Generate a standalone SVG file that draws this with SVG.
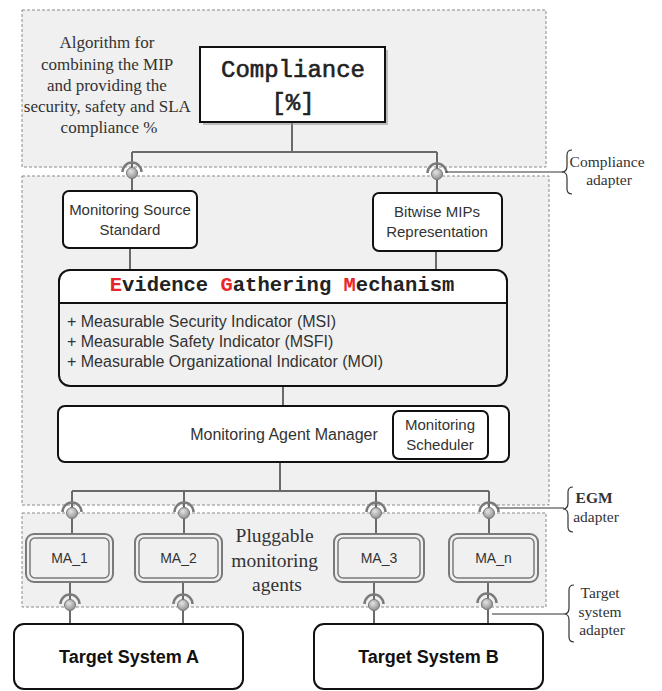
<svg xmlns="http://www.w3.org/2000/svg" width="662" height="691" viewBox="0 0 662 691">
<defs>
<style>
.region{fill:#f0f0f0;stroke:#8a8a8a;stroke-width:1;stroke-dasharray:3,2}
.box{fill:#fff;stroke:#111;stroke-width:2}
.conn{fill:none;stroke:#6a6a6a;stroke-width:2}
.callout{fill:none;stroke:#333;stroke-width:1.2}
.sans{font-family:"Liberation Sans",Arial,sans-serif;fill:#333}
.serif{font-family:"Liberation Serif","Times New Roman",serif;fill:#333}
.mono{font-family:"Liberation Mono","Courier New",monospace;font-weight:bold;fill:#222}
.mono-light{font-family:"Liberation Mono","Courier New",monospace;fill:#222;stroke:#222;stroke-width:0.6}
.red{fill:#e8262a}
.ma-out{fill:#f0f0f0;stroke:#7a7a7a;stroke-width:2}
.ma-in{fill:none;stroke:#7a7a7a;stroke-width:1.5}
</style>
<radialGradient id="ballGrad" cx="0.4" cy="0.35" r="0.7">
<stop offset="0" stop-color="#e4e4e4"/>
<stop offset="1" stop-color="#8c8c8c"/>
</radialGradient>
<g id="socket">
<path d="M-9.5,-1 A9.5,9.5 0 0 1 9.5,-1" fill="none" stroke="#7a7a7a" stroke-width="2.5"/>
<circle cx="0" cy="0" r="5.5" fill="url(#ballGrad)" stroke="#777" stroke-width="1"/>
</g>
</defs>

<!-- regions -->
<rect class="region" x="22" y="10" width="524" height="157"/>
<rect class="region" x="22" y="176" width="527" height="329"/>
<rect class="region" x="22" y="513" width="524" height="94"/>

<text class="serif" font-size="17" text-anchor="middle">
<tspan x="109" y="48">Algorithm for</tspan>
<tspan x="109" y="69.5">combining the MIP</tspan>
<tspan x="109" y="91">and providing the</tspan>
<tspan x="109" y="112">security, safety and SLA</tspan>
<tspan x="109" y="133">compliance %</tspan>
</text>
<text class="serif" font-size="19.5" text-anchor="middle">
<tspan x="277" y="542">Pluggable</tspan>
<tspan x="277" y="567">monitoring</tspan>
<tspan x="277" y="591">agents</tspan>
</text>

<!-- connectors -->
<g id="connectors">
<path class="conn" d="M292,122 V152 M132,152 H437 M132,152 V191 M437,152 V193"/>
<path class="conn" d="M130,248 V270 M436,251 V270"/>
<path class="conn" d="M283,386 V406"/>
<path class="conn" d="M280,462 V491 M72,491 H489 M72,491 V534 M184,491 V534 M376,491 V534 M489,491 V534"/>
<path class="conn" d="M70,582 V624 M183,582 V624 M374,582 V624 M488,582 V624"/>
<use href="#socket" x="132" y="173"/>
<use href="#socket" x="437" y="174"/>
<use href="#socket" x="72" y="513"/>
<use href="#socket" x="184" y="513"/>
<use href="#socket" x="376" y="513"/>
<use href="#socket" x="489" y="513"/>
<use href="#socket" x="70" y="605"/>
<use href="#socket" x="183" y="605"/>
<use href="#socket" x="374" y="605"/>
<use href="#socket" x="487" y="604"/>
<!-- adapter callouts -->
<path class="callout" d="M446,172 H563"/>
<path class="callout" d="M572,150 Q567,150 567,155 V166 Q567,172 562,172 Q567,172 567,178 V189 Q567,194 572,194"/>
<path class="callout" d="M498,508 H564"/>
<path class="callout" d="M573,487 Q568,487 568,492 V503 Q568,509 563,509 Q568,509 568,515 V527 Q568,532 573,532"/>
<path class="callout" d="M492,614 H564"/>
<path class="callout" d="M574,585 Q569,585 569,590 V608 Q569,614 564,614 Q569,614 569,620 V637 Q569,642 574,642"/>
</g>

<text class="serif" font-size="15.5" text-anchor="middle">
<tspan x="609" y="167">Compliance</tspan>
<tspan x="609" y="185">adapter</tspan>
</text>
<text class="serif" font-size="15.5" text-anchor="middle">
<tspan x="596" y="503" font-weight="bold">EGM</tspan>
<tspan x="596" y="522">adapter</tspan>
</text>
<text class="serif" font-size="15.5" text-anchor="middle">
<tspan x="602" y="598">Target</tspan>
<tspan x="602" y="617">system</tspan>
<tspan x="602" y="635">adapter</tspan>
</text>

<!-- Compliance node -->
<g id="compliance">
<rect x="203" y="50" width="185" height="75" fill="#9a9a9a" opacity="0.6"/>
<rect x="200" y="47" width="185" height="75" fill="#fff" stroke="#111" stroke-width="2"/>
<text class="mono-light" font-size="24" text-anchor="middle" x="293" y="77">Compliance</text>
<text class="mono-light" font-size="24" text-anchor="middle" x="293" y="110">[%]</text>
</g>

<g id="monitoring-source-standard">
<rect class="box" x="63" y="191" width="134" height="57" rx="6"/>
<text class="sans" font-size="15" text-anchor="middle"><tspan x="130" y="215">Monitoring Source</tspan><tspan x="130" y="235">Standard</tspan></text>
</g>

<g id="bitwise-mips">
<rect class="box" x="373" y="193" width="129" height="58" rx="6"/>
<text class="sans" font-size="15" text-anchor="middle"><tspan x="437" y="217">Bitwise MIPs</tspan><tspan x="437" y="237">Representation</tspan></text>
</g>

<g id="egm">
<rect x="59" y="270" width="448" height="116" rx="11" fill="#f0f0f0"/>
<path d="M59,303 V281 Q59,270 70,270 H496 Q507,270 507,281 V303 Z" fill="#fff"/>
<path d="M59,303 H507" stroke="#111" stroke-width="2"/>
<rect x="59" y="270" width="448" height="116" rx="11" fill="none" stroke="#111" stroke-width="2"/>
<text class="mono" font-size="20.5" text-anchor="middle" x="282" y="291"><tspan class="red">E</tspan>vidence <tspan class="red">G</tspan>athering <tspan class="red">M</tspan>echanism</text>
<text class="sans" font-size="16"><tspan x="67" y="327">+ Measurable Security Indicator (MSI)</tspan><tspan x="67" y="347">+ Measurable Safety Indicator (MSFI)</tspan><tspan x="67" y="367">+ Measurable Organizational Indicator (MOI)</tspan></text>
</g>

<g id="monitoring-agent-manager">
<rect class="box" x="58" y="406" width="451" height="56" rx="7"/>
<text class="sans" font-size="16" text-anchor="middle" x="284" y="440">Monitoring Agent Manager</text>
</g>

<g id="monitoring-scheduler">
<rect class="box" x="393" y="411" width="95" height="48" rx="6"/>
<text class="sans" font-size="15" text-anchor="middle"><tspan x="440" y="430">Monitoring</tspan><tspan x="440" y="450">Scheduler</tspan></text>
</g>

<g id="ma1">
<rect class="ma-out" x="26" y="534" width="87" height="48" rx="8"/>
<rect class="ma-in" x="30" y="538" width="79" height="40" rx="5"/>
<text class="sans" font-size="14" text-anchor="middle" x="69.5" y="563">MA_1</text>
</g>
<g id="ma2">
<rect class="ma-out" x="135" y="534" width="87" height="48" rx="8"/>
<rect class="ma-in" x="139" y="538" width="79" height="40" rx="5"/>
<text class="sans" font-size="14" text-anchor="middle" x="178.5" y="563">MA_2</text>
</g>
<g id="ma3">
<rect class="ma-out" x="334" y="534" width="90" height="48" rx="8"/>
<rect class="ma-in" x="338" y="538" width="82" height="40" rx="5"/>
<text class="sans" font-size="14" text-anchor="middle" x="379" y="563">MA_3</text>
</g>
<g id="man">
<rect class="ma-out" x="449" y="534" width="89" height="48" rx="8"/>
<rect class="ma-in" x="453" y="538" width="81" height="40" rx="5"/>
<text class="sans" font-size="14" text-anchor="middle" x="493.5" y="563">MA_n</text>
</g>

<g id="target-a">
<rect class="box" x="14" y="624" width="229" height="65" rx="10"/>
<text class="sans" font-size="18" font-weight="bold" text-anchor="middle" x="129" y="663" style="fill:#111">Target System A</text>
</g>
<g id="target-b">
<rect class="box" x="314" y="624" width="229" height="65" rx="10"/>
<text class="sans" font-size="18" font-weight="bold" text-anchor="middle" x="428.5" y="663" style="fill:#111">Target System B</text>
</g>
</svg>
